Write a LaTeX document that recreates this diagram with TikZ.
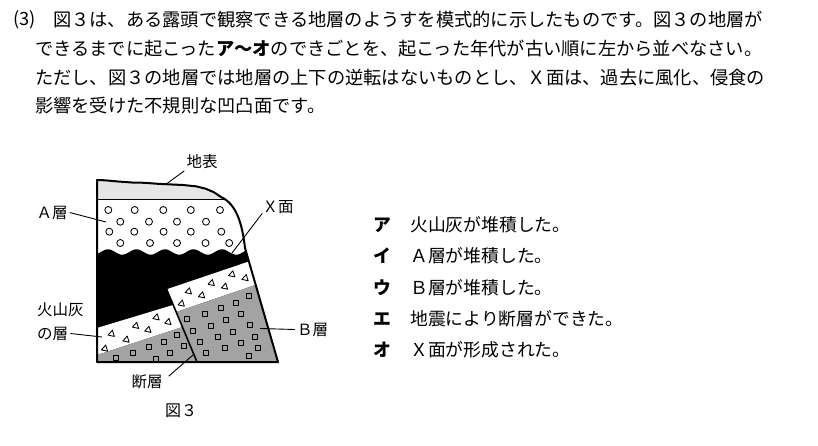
\documentclass[tikz,border=0pt]{standalone}
\usepackage{fontspec}
\setmainfont{Noto Sans CJK JP}
\usetikzlibrary{calc}
\definecolor{groundgray}{gray}{0.9}
\definecolor{bgray}{gray}{0.64}
\begin{document}
\begin{tikzpicture}[x=1pt,y=-1pt,line join=round,
  txt/.style={inner sep=0pt,anchor=west,font=\fontsize{18.25}{22}\selectfont},
  opt/.style={inner sep=0pt,anchor=west,font=\fontsize{17.8}{21}\selectfont},
  optk/.style={inner sep=0pt,anchor=west,font=\fontsize{17.8}{21}\selectfont\bfseries},
  lab/.style={inner sep=2pt,font=\fontsize{15.5}{18}\selectfont},
  leader/.style={line width=0.9pt},
  outl/.style={line width=2pt},
  faultl/.style={line width=1.6pt},
  circmark/.style={line width=0.85pt,fill=white},
  trimark/.style={line width=0.85pt},
  sqmark/.style={line width=1pt}]
\useasboundingbox[fill=white] (0,0) rectangle (818,445);

% ---------- question text ----------
\node[txt] (q0) at (13,20) {(3)};
\node[txt] (q1) at (53,20) {図３は、ある露頭で観察できる地層のようすを模式的に示したものです。図３の地層が};
\node[txt] (q2) at (35,49) {できるまでに起こった\textbf{ア〜オ}のできごとを、起こった年代が古い順に左から並べなさい。};
\node[txt] (q3) at (35,77.5) {ただし、図３の地層では地層の上下の逆転はないものとし、Ｘ面は、過去に風化、侵食の};
\node[txt] (q4) at (35,106) {影響を受けた不規則な凹凸面です。};

% ---------- options ----------
\node[optk] (ka) at (373,225) {ア}; \node[opt] (ta) at (410,225) {火山灰が堆積した。};
\node[optk] (ki) at (373,256) {イ}; \node[opt] (ti) at (410,256) {Ａ層が堆積した。};
\node[optk] (ku) at (373,287.5) {ウ}; \node[opt] (tu) at (410,287.5) {Ｂ層が堆積した。};
\node[optk] (ke) at (373,319) {エ}; \node[opt] (te) at (410,319) {地震により断層ができた。};
\node[optk] (ko) at (373,350) {オ}; \node[opt] (to) at (410,350) {Ｘ面が形成された。};

% ---------- block diagram ----------
\begin{scope}
\clip (97,180) -- (105,180.3) -- (118,181.5) -- (132,182.5) -- (145,182.8) -- (158,183.8) -- (168,184.3) -- (183,185) -- (196,186.3) -- (206,188.8) -- (214,192.3) -- (221,197)
  .. controls (236,204) and (242,222) .. (245,248) -- (278,362) -- (97,362) -- cycle;
% ground surface layer
\fill[groundgray] (80,160) rectangle (300,199);
% black layer under X surface
\fill[black] plot[domain=85:300,samples=220,smooth] (\x,{252-2.7*cos((\x-108)*12.6316)}) -- (300,380) -- (85,380) -- cycle;
% left block
\begin{scope}
  \clip (80,240) -- (146.1,240) -- (204.5,380) -- (80,380) -- cycle;
  \fill[white] (85,331.6) -- (210,293.8) -- (210,317.9) -- (85,358.9) -- cycle;
  \fill[bgray] (85,358.9) -- (210,317.9) -- (210,380) -- (85,380) -- cycle;
\end{scope}
% right block
\begin{scope}
  \clip (146.1,240) -- (310,240) -- (310,380) -- (204.5,380) -- cycle;
  \fill[white] (140,298.3) -- (300,244.2) -- (300,269.8) -- (140,324.2) -- cycle;
  \fill[bgray] (140,324.2) -- (300,269.8) -- (300,380) -- (140,380) -- cycle;
\end{scope}
% boundary ground / A layer
\draw[line width=0.8pt] (85,199) -- (300,199);
% circles of A layer
\foreach \cx/\cy in {108.3/210,134.7/210,163.3/210,190.8/210,220/210,
  120.3/221.7,149/221.7,177/221.7,206/221.7,
  109.3/231.7,134.3/231.7,163.6/231.7,190.8/231.7,221.3/231.7,
  120.3/243,150/243,177/243,205.5/243,229.2/243}
  \draw[circmark] (\cx,\cy) circle[radius=3.5pt];
% triangles of volcanic ash
\foreach \cx/\cy in {105/348.3,111.7/333.5,126.5/339.3,136/325.5,148.3/329.5,156.5/317,168.3/321.7,
  181.7/303.3,188.8/291,202/295,211.7/282.7,225/286.3,232.2/274,245.5/277.8}
  \draw[trimark,shift={(\cx,\cy)},rotate=-12] (-3.2,2.3) -- (3.2,2.3) -- (0,-3.3) -- cycle;
% squares of B layer
\foreach \cx/\cy in {116/357.5,133.2/353,148.8/346.7,156.3/359,164/341.7,169.8/352.7,177/335,183.7/346,
  187.3/319.2,205/313.5,220.5/308.3,235.5/302.7,249/296.3,
  192.7/330.7,210.7/325.7,226/320,240.7/314.3,250/325,
  200/341.7,218.3/336.7,233/331.7,255/337,
  206/353.3,225/348.3,241/342.7,258/348.3,248.5/355.5}
  \draw[sqmark,shift={(\cx,\cy)}] (-2.5,-2.5) rectangle (2.5,2.5);
% fault
\draw[faultl] (166.7,289.3) -- (197,362);
\end{scope}
% outline
\draw[outl] (97,180) -- (105,180.3) -- (118,181.5) -- (132,182.5) -- (145,182.8) -- (158,183.8) -- (168,184.3) -- (183,185) -- (196,186.3) -- (206,188.8) -- (214,192.3) -- (221,197)
  .. controls (236,204) and (242,222) .. (245,248) -- (278,362) -- (97,362) -- cycle;

% ---------- labels ----------
\node[lab] (dihyo) at (202,161.5) {地表};
\coordinate (dihyoPt) at (167,183.5);
\draw[leader] (dihyo.south west) -- (dihyoPt);

\node[lab] (alab) at (52,212.5) {Ａ層};
\coordinate (aPt) at (106,222);
\draw[leader] (alab.east) -- (aPt);

\node[lab] (xlab) at (278,207.5) {Ｘ面};
\coordinate (xPt) at (232,253);
\draw[leader] ([xshift=2pt,yshift=3pt]xlab.south west) -- (xPt);

\node[lab,anchor=west] (kz1) at (35,310) {火山灰};
\node[lab,anchor=west] (kz2) at (35,333.5) {の層};
\coordinate (kzPt) at (102,337);
\draw[leader] (kz2.east) -- (kzPt);

\node[lab,anchor=west] (blab) at (295,329.5) {Ｂ層};
\coordinate (bPt) at (260,328.5);
\draw[leader] (bPt) -- (blab.west);

\node[lab] (danso) at (147,381.5) {断層};
\coordinate (dPt) at (193,355);
\draw[leader] ([xshift=4pt,yshift=-4pt]danso.north east) -- (dPt);

\node[inner sep=0pt,font=\fontsize{16}{19}\selectfont] (fig) at (181,410.5) {図３};
\end{tikzpicture}
\end{document}
